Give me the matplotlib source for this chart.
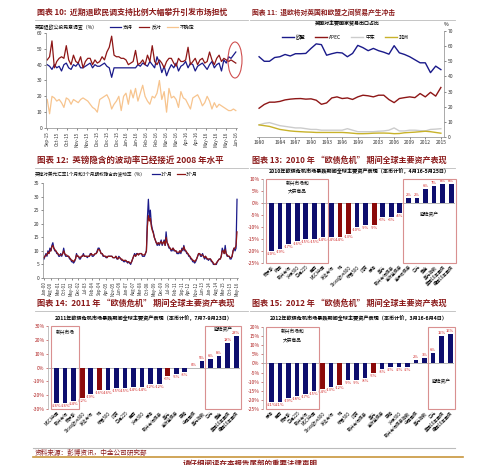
import matplotlib
matplotlib.use('Agg')
import matplotlib.pyplot as plt
from matplotlib.patches import Rectangle, Ellipse
from matplotlib.lines import Line2D
import numpy as np

plt.rcParams['font.family'] = ['Noto Sans CJK SC', 'DejaVu Sans']
plt.rcParams['axes.unicode_minus'] = False

# ---------------- data ----------------
# Fig 10: Brexit polls (%)
poll_support = [40,39,37,40,38,39,36,40,41,38,37,40,39,41,38,38,39,40,41,38,40,39,39,40,41,39,38,32,38,38,
                38,38,38,38,38,38,38,38,40,39,41,40,39,42,40,38,45,41,35,39,33,37,40,38,41,36,39,40,42,38,
                41,40,36,39,40,41,39,37,40,42,38,40,41,36,43,41,45,44,46,48]
poll_oppose = [43,45,55,38,42,44,45,44,52,43,40,46,42,41,45,38,42,44,44,40,43,41,42,45,43,48,51,58,46,45,
               45,44,44,43,40,41,42,49,40,41,43,40,46,42,52,42,40,43,41,38,42,44,44,41,39,44,42,42,43,51,
               40,42,44,40,43,44,41,42,48,43,40,44,46,42,44,43,42,43,42,41]
poll_undecided = [18,9,20,19,17,18,16,13,19,18,15,18,17,16,18,19,18,17,15,13,12,10,18,19,20,21,18,12,15,17,
                  20,11,20,22,15,24,19,25,17,22,27,20,17,15,20,19,22,30,18,23,10,25,19,20,18,13,23,19,18,15,
                  12,19,20,21,18,14,16,20,17,12,16,13,15,14,13,12,11,11,12,11]
poll_ticks = ['Sep-15','Oct-15','Oct-15','Nov-15','Nov-15','Dec-15','Dec-15','Dec-15','Jan-16','Jan-16',
              'Feb-16','Feb-16','Mar-16','Mar-16','Apr-16','Apr-16','May-16','May-16','May-16','Jun-16']
poll_names = ['支持', '反对', '不确定']

# Fig 11: UK export shares (%)
trade_years = list(range(1980, 2016))
trade_eu = [53,50,50,52.5,53,54.5,53.5,55,55,55.2,58.5,61.5,61,54,55,55.8,55.5,53,55.2,60.5,
            59,57,58.5,57,56,54.7,60.3,55.6,54.5,53,51,49,49,42.5,46.8,44.5]
trade_apec = [19,21.5,23,23,23.5,24.5,25,25.3,25.4,25,25.2,24.3,21.6,22.5,25.8,26.5,25.4,25.8,24.8,26.5,
              27.6,27.2,26.5,27.6,27.6,24.7,22.7,25.4,26,26.5,26,28.7,26.5,29.5,27,32.7]
trade_me = [8,9,9.5,8.5,7.5,7,6.5,6,6,5.5,5,5,4.5,4.5,4.5,4.5,4.5,5.5,4.5,3.5,
            3.5,3.5,3.5,3.8,4,4.5,6,4,4,4.5,4.5,4.2,4,5,5.2,5.5]
trade_africa = [8,7.5,7,6,5,4.5,4,3.7,3.5,3.3,3.2,3,3,3,3,3,3,2.8,2.5,2.2,
                2.2,2.3,2.5,2.6,2.6,2.5,2.2,2.3,2.8,3,3.2,3.5,3.8,3.5,3,2.5]
trade_names = ['欧盟', 'APEC', '中东', '非洲']
trade_ticks = [1980,1984,1987,1990,1993,1996,1999,2003,2006,2009,2012,2015]

# Fig 12: GBP/USD implied vol (%), monthly Jan-00 .. May-16
gbp_1m = [7,8,9,8,10,9,11,10,12,13,11,10,
          10,9,9,8,8,9,8,9,11,9,8,8,
          8,8,7,7,6,6,5.5,6,7,9,8,8,
          7,7,8,8,9,8,8,8,7.5,8,8,9,
          9,8,8,8.5,9,9,10,11,11,10,9,9,
          8,8,8,7.5,7.5,8,8,8,8,8,7.5,7.5,
          7.5,8,7,7,8,7.5,7,6.5,6.5,6,6,6.5,
          6,5.5,6,5.5,5,6,7,8,9,8,9,9,
          8.5,9,9,9,8,8,8,9,10,22,29,22,
          25,20,18,17,15,14,13,12,13,12,13,14,
          12,13,14,12,17,13,12,11,11,10,10,11,
          10,10,10,9,9,9,10,9,11,10,12,10,
          10,9,9,8,8,7,7,6,6,5.5,6,7,
          8,9,9,8,8,9,8,7,8,7,7,6.5,
          7,7,6,6,5,5,5,5,6,6.5,7,7,
          8,11,10,9,12,9,8,8,8,7,7,8,
          10,11,10,11,29]
gbp_3m = [7.5,8,8.5,8.5,9.5,9,10,10,11.5,12,11,10.5,
          10,9.5,9,8.5,8.5,8.5,8.5,9,10,9,8.5,8.5,
          8,8,7.5,7,6.5,6.5,6,6.5,7,8.5,8,8,
          7.5,7.5,8,8,8.5,8,8,8,8,8,8,8.5,
          9,8.5,8.5,8.5,9,9,9.5,10.5,10.5,10,9,9,
          8.5,8,8,8,7.5,8,8,8,8,8,7.5,7.5,
          7.5,8,7.5,7,7.5,7.5,7,7,6.5,6.5,6.5,6.5,
          6,6,6,5.5,5.5,6,7,8,8.5,8,8.5,9,
          8.5,9,9,9,8.5,8.5,8.5,9,10,19,23,21,
          22,19,17.5,16.5,15,14,13,12.5,13,12.5,13,13.5,
          12.5,13,13.5,12,15,13,12.5,11.5,11,10.5,10.5,11,
          10.5,10,10,9.5,9.5,9.5,10,9.5,10.5,10.5,11.5,10.5,
          10,9.5,9,8.5,8,7.5,7,6.5,6.5,6,6.5,7,
          8,9,9,8.5,8.5,8.5,8,7.5,8,7.5,7,7,
          7,7,6.5,6,5.5,5,5,5.5,6,6.5,7,7,
          8,10,10,9,10.5,9,8.5,8,8,7.5,7.5,8,
          10,11,11,12,17]
gbp_ticks = ['Jan-00','Aug-00','Mar-01','Oct-01','May-02','Dec-02','Jul-03','Feb-04','Sep-04','Apr-05',
             'Nov-05','Jun-06','Jan-07','Aug-07','Mar-08','Oct-08','May-09','Dec-09','Jul-10','Feb-11',
             'Sep-11','Apr-12','Nov-12','Jun-13','Jan-14','Aug-14','Mar-15','Oct-15','May-16']
gbp_names = ['1个月', '3个月']

# Fig 13: 2010
cats_2010 = ['俄罗斯','韩国','新兴市场','沪深300','日经225','巴西','MSCI中国','发达市场','铜','Stoxx欧洲600',
             '标普500','印度','原油','美元','新兴市场债券','高收益债券','高评级债券','日元','黄金','美元指数',
             '美国10年国债','德国10年国债']
vals_2010 = [-20,-19,-17,-16,-15,-15,-14,-14,-14,-13,-10,-9,-9,-6,-6,-4,2,2,6,7,8,8]
red_2010 = [8, 9, 12]

# Fig 14: 2011
cats_2011 = ['MSCI中国','新兴市场','俄罗斯','Stoxx欧洲600','发达市场','铜','标普500','印度','日经225','巴西',
             '沪深300','原油','新兴市场债券','美元','高收益债券','英镑','中国国债','美元指数','日元','黄金',
             '美国10年国债','德国10年国债']
vals_2011 = [-26,-26,-24,-22,-19,-16,-16,-15,-15,-14,-14,-12,-12,-6,-5,-3,0,5,6,8,18,23]
red_2011 = [3, 5, 13]

# Fig 15: 2012
cats_2012 = ['原油','巴西','俄罗斯','日经225','新兴市场','MSCI中国','Stoxx欧洲600','发达市场','铜','标普500',
             '印度','新兴市场债券','美元','高收益债券','英镑','沪深300','新兴市场债券指数','中国国债','美元指数','日元',
             '美国10年国债','德国10年国债']
vals_2012 = [-21,-21,-19,-18,-17,-15,-14,-13,-12,-9,-9,-8,-5,-3,-2,-2,-2,2,3,6,15,16]
red_2012 = [6, 8, 12]

# ---------------- style ----------------
W, H = 500, 465
fig = plt.figure(figsize=(5, 4.65), dpi=100)

TITLE_C = '#8B1A1A'
NAVY = '#1A1A8A'
DRED = '#8E1616'
BARN = '#0E0E6E'
BARR = '#8B0A0A'
BOXC = '#D99090'
TICKR = '#B02020'

def ax_at(l, t, r, b):
    return fig.add_axes([l / W, 1 - b / H, (r - l) / W, (b - t) / H])

def ftext(x, y, s, **kw):
    return fig.text(x / W, 1 - y / H, s, **kw)

def fline(x0, x1, y, **kw):
    fig.add_artist(Line2D([x0 / W, x1 / W], [1 - y / H, 1 - y / H], transform=fig.transFigure, **kw))

def title(x, y, s, size, x1):
    ftext(x, y, s, fontsize=size, color=TITLE_C, style='italic', fontweight='bold', va='center')
    fline(x - 2, x1, y + 8, color='#BBBBBB', lw=0.6)

def style_line_ax(ax):
    for s in ['top', 'right']:
        ax.spines[s].set_visible(False)
    for s in ['left', 'bottom']:
        ax.spines[s].set_color('#888888')
        ax.spines[s].set_linewidth(0.5)
    ax.tick_params(length=1.5, width=0.4, labelsize=3.6, pad=1, colors='#333333')

# ---------- Fig 10 ----------
title(37, 12, '图表 10:  近期退欧民调支持比例大幅攀升引发市场担忧', 5.7, 248)
ax10 = ax_at(46, 33, 237, 128)
x10 = np.arange(len(poll_support))
for vals, c, n in [(poll_support, NAVY, poll_names[0]), (poll_oppose, DRED, poll_names[1]),
                   (poll_undecided, '#F7C48E', poll_names[2])]:
    ax10.plot(x10, vals, color=c, lw=0.9, label=n)
ax10.set_ylim(0, 60)
ax10.set_yticks(range(0, 61, 10))
ax10.set_xlim(-0.5, len(x10) - 0.5)
ax10.set_xticks(np.linspace(0, len(x10) - 1, len(poll_ticks)))
ax10.set_xticklabels(poll_ticks, rotation=90)
style_line_ax(ax10)
ax10.tick_params(axis='x', labelsize=3.3)
ftext(35, 27, '英国退欧公投民意调查（%）', fontsize=3.5, va='center')
ax10.legend(loc='center left', bbox_to_anchor=(108 / W, 1 - 27 / H), bbox_transform=fig.transFigure,
            ncol=3, frameon=False, fontsize=3.5, handlelength=2.2, columnspacing=1.2, handletextpad=0.4,
            borderpad=0)
fig.add_artist(Ellipse((235 / W, 1 - 60 / H), 14 / W, 36 / H, transform=fig.transFigure,
                       fill=False, ec='#D05050', lw=0.8))

# ---------- Fig 11 ----------
title(252, 12, '图表 11:  退欧将对英国和欧盟之间贸易产生冲击', 4.9, 455)
ax11 = ax_at(257, 31, 444, 137)
for vals, c, n in [(trade_eu, NAVY, trade_names[0]), (trade_apec, DRED, trade_names[1]),
                   (trade_me, '#CCCCCC', trade_names[2]), (trade_africa, '#C8B22A', trade_names[3])]:
    ax11.plot(trade_years, vals, color=c, lw=1.0, label=n)
ax11.set_ylim(0, 70)
ax11.set_xlim(1979.6, 2015.6)
ax11.yaxis.tick_right()
ax11.set_yticks(range(0, 71, 10))
ax11.set_xticks(trade_ticks)
ax11.spines['top'].set_visible(False)
ax11.spines['left'].set_visible(False)
for s in ['right', 'bottom']:
    ax11.spines[s].set_color('#888888')
    ax11.spines[s].set_linewidth(0.5)
ax11.tick_params(length=1.5, width=0.4, labelsize=3.6, pad=1, colors='#333333')
ftext(347, 23, '英国对主要国家贸易出口占比', fontsize=3.6, ha='center', va='center', fontweight='bold')
ftext(446, 24, '%', fontsize=3.6, ha='center', va='center')
ax11.legend(loc='center', bbox_to_anchor=(345 / W, 1 - 37 / H), bbox_transform=fig.transFigure,
            ncol=4, frameon=False, fontsize=3.5, handlelength=2.5, columnspacing=2.0, handletextpad=0.4,
            borderpad=0)

# ---------- Fig 12 ----------
title(37, 160, '图表 12:  英镑隐含的波动率已经接近 2008 年水平', 6.1, 248)
ax12 = ax_at(43, 183, 238, 278)
x12 = np.arange(len(gbp_1m))
ax12.plot(x12, gbp_1m, color=NAVY, lw=0.9, label=gbp_names[0])
ax12.plot(x12, gbp_3m, color=DRED, lw=0.9, label=gbp_names[1])
ax12.set_ylim(0, 35)
ax12.set_yticks(range(0, 36, 5))
ax12.set_xlim(-1, len(x12))
ax12.set_xticks(np.arange(0, len(x12), 7)[:len(gbp_ticks)])
ax12.set_xticklabels(gbp_ticks, rotation=90)
style_line_ax(ax12)
ax12.tick_params(axis='x', labelsize=3.1)
ftext(35, 174, '英镑对美元汇率1个月和3个月期权隐含的波动率（%）', fontsize=3.3, va='center')
ax12.legend(loc='center left', bbox_to_anchor=(150 / W, 1 - 174 / H), bbox_transform=fig.transFigure,
            ncol=2, frameon=False, fontsize=3.3, handlelength=1.6, columnspacing=1.0, handletextpad=0.3,
            borderpad=0)

# ---------- bar panels ----------
def bar_panel(box, vals, cats, reds, ylim, ystep, subtitle, sub_y, boxes):
    ax = ax_at(*box)
    xs = np.arange(len(vals))
    cols = [BARR if i in reds else BARN for i in xs]
    ax.bar(xs, vals, width=0.55, color=cols, zorder=3)
    ax.axhline(0, color='#AAAAAA', lw=0.6, zorder=2)
    ax.set_ylim(*ylim)
    ax.set_yticks(np.arange(ylim[0], ylim[1] + 0.1, ystep))
    ax.set_yticklabels([f'{int(v)}%' for v in np.arange(ylim[0], ylim[1] + 0.1, ystep)])
    ax.set_xlim(-1.0, len(vals) - 0.55)
    ax.set_xticks(xs)
    ax.set_xticklabels(cats, rotation=45, ha='right', rotation_mode='anchor')
    for s in ['top', 'right', 'bottom']:
        ax.spines[s].set_visible(False)
    ax.spines['left'].set_color('#AAAAAA')
    ax.spines['left'].set_linewidth(0.5)
    ax.tick_params(axis='y', length=1.5, width=0.4, labelsize=3.6, pad=1, colors=TICKR)
    ax.tick_params(axis='x', length=0, labelsize=3.1, pad=1)
    off = (ylim[1] - ylim[0]) * 0.012
    for xi, v in zip(xs, vals):
        if v < 0:
            ax.text(xi, v - off, f'{v}%', ha='center', va='top', fontsize=2.9, color='#D02020', zorder=4)
        else:
            ax.text(xi, v + off, f'{v}%', ha='center', va='bottom', fontsize=2.9, color='#D02020', zorder=4)
    for (i0, i1, txt, ty) in boxes:
        ax.add_patch(Rectangle((i0 - 0.6, ylim[0]), i1 - i0 + 1.2, ylim[1] - ylim[0], fill=False,
                               ec=BOXC, lw=0.8, clip_on=False, zorder=5))
        ax.text((i0 + i1) / 2, ty, txt, ha='center', va='center', fontsize=3.4, zorder=6,
                linespacing=1.6)
    ftext((box[0] + box[2]) / 2, sub_y, subtitle, fontsize=3.7, ha='center', va='center',
          fontweight='bold')
    return ax

title(252, 160, '图表 13:  2010 年 “欧债危机” 期间全球主要资产表现', 5.8, 455)
bar_panel((263, 179, 455, 263), vals_2010, cats_2010, red_2010, (-25, 10), 5,
          '2010年欧债危机市场暴跌期间全球主要资产表现（本币计价，4月16-5月25日）', 171,
          [(0, 6, '新兴市场和\n大宗商品', 6.5), (16, 21, '避险资产', -5)])

title(37, 303, '图表 14:  2011 年 “欧债危机” 期间全球主要资产表现', 5.9, 248)
bar_panel((48, 326, 240, 409), vals_2011, cats_2011, red_2011, (-30, 30), 10,
          '2011年欧债危机市场暴跌期间全球主要资产表现（本币计价，7月7-9月23日）', 318,
          [(0, 2, '新兴市场', 25), (18, 21, '避险资产', 27)])

title(252, 303, '图表 15:  2012 年 “欧债危机” 期间全球主要资产表现', 5.8, 455)
bar_panel((263, 327, 454, 409), vals_2012, cats_2012, red_2012, (-25, 20), 5,
          '2012年欧债危机市场暴跌期间全球主要资产表现（本币计价，3月16-6月4日）', 318,
          [(0, 5, '新兴市场和\n大宗商品', 15), (19, 21, '避险资产', -10)])

# ---------- footer ----------
fline(33, 455, 448, color='#BBBBBB', lw=0.8)
fline(33, 463, 457, color='#C8963C', lw=1.2)
ftext(35, 452.5, '资料来源：彭博资讯，中金公司研究部', fontsize=4.8, color=TITLE_C, style='italic',
      va='center')
ftext(250, 459, '请仔细阅读在本报告尾部的重要法律声明', fontsize=5.4, color=TITLE_C, style='italic',
      fontweight='bold', ha='center', va='top')

fig.savefig('out.png', dpi=100)
